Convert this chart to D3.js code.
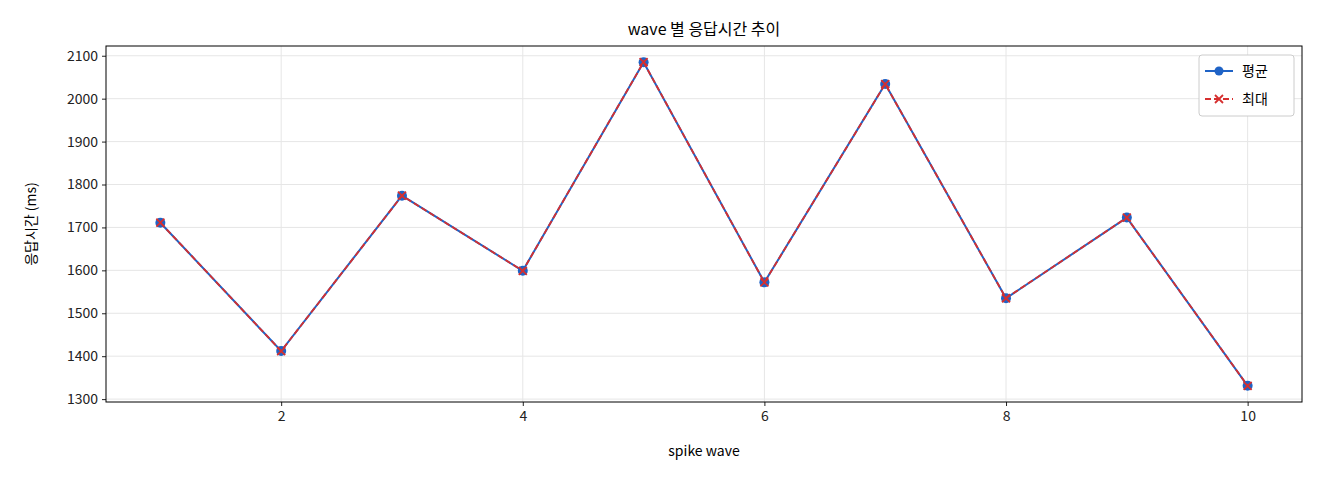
<!DOCTYPE html>
<html><head><meta charset="utf-8">
<script src="https://cdn.jsdelivr.net/npm/d3@7"></script>
<style>body{margin:0;background:#fff}text{font-family:"Noto Sans CJK KR","Noto Sans",sans-serif}</style>
</head><body><svg id="c" width="1320" height="480"></svg>
<script>
const waves=[1,2,3,4,5,6,7,8,9,10];
const avgMs=[1711,1412,1774,1599,2085,1572,2034,1535,1723,1331];
const maxMs=[1711,1412,1774,1599,2085,1572,2034,1535,1723,1331];
const xTicks=[2,4,6,8,10];
const yTicks=[1300,1400,1500,1600,1700,1800,1900,2000,2100];
const svg=d3.select("#c");
const L=106,R=1302,T=46,B=402;
const allV=avgMs.concat(maxMs);const mn=d3.min(allV),mx=d3.max(allV),pad=(mx-mn)*0.05;
const x=d3.scaleLinear().domain([1-0.45,10+0.45]).range([L,R]);
const y=d3.scaleLinear().domain([mn-pad,mx+pad]).range([B,T]);
const g=svg.append("g");
g.selectAll(".gx").data(xTicks).join("line").attr("x1",d=>x(d)).attr("x2",d=>x(d)).attr("y1",T).attr("y2",B).attr("stroke","#e6e6e6");
g.selectAll(".gy").data(yTicks).join("line").attr("y1",d=>y(d)).attr("y2",d=>y(d)).attr("x1",L).attr("x2",R).attr("stroke","#e6e6e6");
const xa=svg.append("g").attr("transform",`translate(0,${B})`).call(d3.axisBottom(x).tickValues(xTicks).tickFormat(d3.format("d")).tickSize(4).tickPadding(5));
const ya=svg.append("g").attr("transform",`translate(${L},0)`).call(d3.axisLeft(y).tickValues(yTicks).tickFormat(d3.format("d")).tickSize(4).tickPadding(4));
[xa,ya].forEach(a=>{a.select(".domain").remove();a.selectAll("text").attr("font-size",14).attr("fill","#222");a.selectAll("line").attr("stroke","#222");});
svg.append("rect").attr("x",L).attr("y",T).attr("width",R-L).attr("height",B-T).attr("fill","none").attr("stroke","#000");
const line=d3.line().x((d,i)=>x(waves[i])).y(d=>y(d));
svg.append("path").datum(avgMs).attr("d",line).attr("fill","none").attr("stroke","#1f63c6").attr("stroke-width",2);
svg.selectAll(".pa").data(avgMs).join("circle").attr("cx",(d,i)=>x(waves[i])).attr("cy",d=>y(d)).attr("r",5).attr("fill","#1f63c6");
svg.append("path").datum(maxMs).attr("d",line).attr("fill","none").attr("stroke","#d62f2f").attr("stroke-width",1.8).attr("stroke-dasharray","6,3");
const cross=(sel,cx,cy)=>{sel.append("path").attr("d",`M${cx-4},${cy-4}L${cx+4},${cy+4}M${cx-4},${cy+4}L${cx+4},${cy-4}`).attr("stroke","#d62f2f").attr("stroke-width",1.8);};
maxMs.forEach((d,i)=>cross(svg,x(waves[i]),y(d)));
svg.append("text").attr("x",(L+R)/2).attr("y",35).attr("text-anchor","middle").attr("font-size",16).text("wave 별 응답시간 추이");
svg.append("text").attr("x",(L+R)/2).attr("y",456).attr("text-anchor","middle").attr("font-size",14).text("spike wave");
svg.append("text").attr("transform",`translate(36,${(T+B)/2}) rotate(-90)`).attr("text-anchor","middle").attr("font-size",14).text("응답시간 (ms)");
const lg=svg.append("g");
lg.append("rect").attr("x",1199).attr("y",55).attr("width",95).attr("height",61).attr("rx",3).attr("fill","#fff").attr("stroke","#ccc");
lg.append("line").attr("x1",1205).attr("x2",1233).attr("y1",71).attr("y2",71).attr("stroke","#1f63c6").attr("stroke-width",2);
lg.append("circle").attr("cx",1219).attr("cy",71).attr("r",4.5).attr("fill","#1f63c6");
lg.append("text").attr("x",1242).attr("y",76).attr("font-size",14).text("평균");
lg.append("line").attr("x1",1205).attr("x2",1233).attr("y1",99).attr("y2",99).attr("stroke","#d62f2f").attr("stroke-width",1.8).attr("stroke-dasharray","6,3");
cross(lg,1219,99);
lg.append("text").attr("x",1242).attr("y",104).attr("font-size",14).text("최대");
</script></body></html>
